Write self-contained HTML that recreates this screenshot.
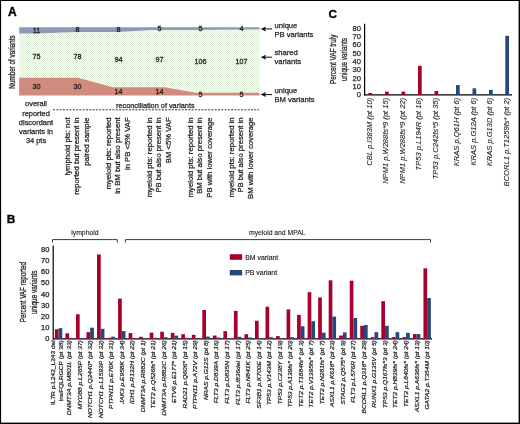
<!DOCTYPE html>
<html><head><meta charset="utf-8"><style>
html,body{margin:0;padding:0;background:#fff;}
body{width:520px;height:424px;overflow:hidden;}
svg{display:block;font-family:"Liberation Sans", sans-serif;}
</style></head><body>
<svg width="520" height="424" viewBox="0 0 520 424">
<defs><filter id="bl" x="-5%" y="-5%" width="110%" height="110%"><feGaussianBlur stdDeviation="0.45"/></filter></defs>
<rect x="0" y="0" width="520" height="424" fill="#fff"/>
<g filter="url(#bl)">
<text transform="translate(8.00,16.40) scale(1.000,1.000)" font-size="12" text-anchor="start" font-weight="bold" font-style="normal" fill="#000" stroke="#000" stroke-width="0.35">A</text>
<defs><pattern id="chk" width="2" height="2" patternUnits="userSpaceOnUse"><rect width="2" height="2" fill="#fbfdfa"/><rect width="1" height="1" fill="#deedd7"/><rect x="1" y="1" width="1" height="1" fill="#deedd7"/></pattern></defs>
<polygon points="19.2,33.6 36.0,33.6 77.0,32.0 118.0,32.0 152.0,30.1 200.0,30.1 241.0,29.6 259.6,29.6 259.6,92.7 196.0,92.7 165.0,87.3 113.0,87.3 78.0,77.7 19.2,77.7" fill="url(#chk)"/>
<polygon points="19.2,27.2 259.6,27.2 259.6,29.6 241.0,29.6 200.0,30.1 152.0,30.1 118.0,32.0 77.0,32.0 36.0,33.6 19.2,33.6" fill="#8f98b8"/>
<polygon points="19.2,77.7 78.0,77.7 113.0,87.3 165.0,87.3 196.0,92.7 259.6,92.7 259.6,95.4 19.2,95.4" fill="#d08a7e"/>
<text transform="translate(36.40,32.90) scale(0.900,1.000)" font-size="8" text-anchor="middle" font-weight="normal" font-style="normal" fill="#231f20" stroke="#231f20" stroke-width="0.3">11</text>
<text transform="translate(77.40,32.30) scale(0.900,1.000)" font-size="8" text-anchor="middle" font-weight="normal" font-style="normal" fill="#231f20" stroke="#231f20" stroke-width="0.3">8</text>
<text transform="translate(118.40,32.00) scale(0.900,1.000)" font-size="8" text-anchor="middle" font-weight="normal" font-style="normal" fill="#231f20" stroke="#231f20" stroke-width="0.3">8</text>
<text transform="translate(159.40,31.20) scale(0.900,1.000)" font-size="8" text-anchor="middle" font-weight="normal" font-style="normal" fill="#231f20" stroke="#231f20" stroke-width="0.3">5</text>
<text transform="translate(200.40,31.20) scale(0.900,1.000)" font-size="8" text-anchor="middle" font-weight="normal" font-style="normal" fill="#231f20" stroke="#231f20" stroke-width="0.3">5</text>
<text transform="translate(241.40,31.20) scale(0.900,1.000)" font-size="8" text-anchor="middle" font-weight="normal" font-style="normal" fill="#231f20" stroke="#231f20" stroke-width="0.3">4</text>
<text transform="translate(36.40,58.90) scale(0.900,1.000)" font-size="8" text-anchor="middle" font-weight="normal" font-style="normal" fill="#231f20" stroke="#231f20" stroke-width="0.3">75</text>
<text transform="translate(77.40,58.90) scale(0.900,1.000)" font-size="8" text-anchor="middle" font-weight="normal" font-style="normal" fill="#231f20" stroke="#231f20" stroke-width="0.3">78</text>
<text transform="translate(118.40,61.90) scale(0.900,1.000)" font-size="8" text-anchor="middle" font-weight="normal" font-style="normal" fill="#231f20" stroke="#231f20" stroke-width="0.3">94</text>
<text transform="translate(159.40,61.90) scale(0.900,1.000)" font-size="8" text-anchor="middle" font-weight="normal" font-style="normal" fill="#231f20" stroke="#231f20" stroke-width="0.3">97</text>
<text transform="translate(200.40,63.90) scale(0.900,1.000)" font-size="8" text-anchor="middle" font-weight="normal" font-style="normal" fill="#231f20" stroke="#231f20" stroke-width="0.3">106</text>
<text transform="translate(241.40,63.90) scale(0.900,1.000)" font-size="8" text-anchor="middle" font-weight="normal" font-style="normal" fill="#231f20" stroke="#231f20" stroke-width="0.3">107</text>
<text transform="translate(36.40,88.50) scale(0.900,1.000)" font-size="8" text-anchor="middle" font-weight="normal" font-style="normal" fill="#231f20" stroke="#231f20" stroke-width="0.3">30</text>
<text transform="translate(77.40,88.50) scale(0.900,1.000)" font-size="8" text-anchor="middle" font-weight="normal" font-style="normal" fill="#231f20" stroke="#231f20" stroke-width="0.3">30</text>
<text transform="translate(118.40,94.00) scale(0.900,1.000)" font-size="8" text-anchor="middle" font-weight="normal" font-style="normal" fill="#231f20" stroke="#231f20" stroke-width="0.3">14</text>
<text transform="translate(159.40,94.00) scale(0.900,1.000)" font-size="8" text-anchor="middle" font-weight="normal" font-style="normal" fill="#231f20" stroke="#231f20" stroke-width="0.3">14</text>
<text transform="translate(200.40,96.70) scale(0.900,1.000)" font-size="8" text-anchor="middle" font-weight="normal" font-style="normal" fill="#231f20" stroke="#231f20" stroke-width="0.3">5</text>
<text transform="translate(241.40,96.70) scale(0.900,1.000)" font-size="8" text-anchor="middle" font-weight="normal" font-style="normal" fill="#231f20" stroke="#231f20" stroke-width="0.3">5</text>
<text transform="translate(14.60,62.00) scale(1,0.735) rotate(-90)" font-size="8.6" text-anchor="middle" font-style="normal" fill="#231f20" stroke="#231f20" stroke-width="0.3">Number of variants</text>
<line x1="264" y1="28.9" x2="272" y2="28.9" stroke="#111" stroke-width="1.0"/>
<polygon points="260.6,28.9 266,26.4 265,28.9 266,31.4" fill="#111"/>
<line x1="264" y1="57.2" x2="272" y2="57.2" stroke="#111" stroke-width="1.0"/>
<polygon points="260.6,57.2 266,54.7 265,57.2 266,59.7" fill="#111"/>
<line x1="264" y1="94.6" x2="272" y2="94.6" stroke="#111" stroke-width="1.0"/>
<polygon points="260.6,94.6 266,92.1 265,94.6 266,97.1" fill="#111"/>
<text transform="translate(274.50,27.50) scale(1.000,1.000)" font-size="7.6" text-anchor="start" font-weight="normal" font-style="normal" fill="#231f20" stroke="#231f20" stroke-width="0.25">unique</text>
<text transform="translate(274.50,36.60) scale(1.000,1.000)" font-size="7.6" text-anchor="start" font-weight="normal" font-style="normal" fill="#231f20" stroke="#231f20" stroke-width="0.25">PB variants</text>
<text transform="translate(274.50,54.70) scale(1.000,1.000)" font-size="7.6" text-anchor="start" font-weight="normal" font-style="normal" fill="#231f20" stroke="#231f20" stroke-width="0.25">shared</text>
<text transform="translate(274.50,64.40) scale(1.000,1.000)" font-size="7.6" text-anchor="start" font-weight="normal" font-style="normal" fill="#231f20" stroke="#231f20" stroke-width="0.25">variants</text>
<text transform="translate(274.50,92.80) scale(1.000,1.000)" font-size="7.6" text-anchor="start" font-weight="normal" font-style="normal" fill="#231f20" stroke="#231f20" stroke-width="0.25">unique</text>
<text transform="translate(274.50,102.20) scale(1.000,1.000)" font-size="7.6" text-anchor="start" font-weight="normal" font-style="normal" fill="#231f20" stroke="#231f20" stroke-width="0.25">BM variants</text>
<text transform="translate(36.00,106.40) scale(1.000,1.000)" font-size="7.45" text-anchor="middle" font-weight="normal" font-style="normal" fill="#231f20" stroke="#231f20" stroke-width="0.25">overall</text>
<text transform="translate(36.00,115.60) scale(1.000,1.000)" font-size="7.45" text-anchor="middle" font-weight="normal" font-style="normal" fill="#231f20" stroke="#231f20" stroke-width="0.25">reported</text>
<text transform="translate(36.00,124.80) scale(1.000,1.000)" font-size="7.45" text-anchor="middle" font-weight="normal" font-style="normal" fill="#231f20" stroke="#231f20" stroke-width="0.25">discordant</text>
<text transform="translate(36.00,133.90) scale(1.000,1.000)" font-size="7.45" text-anchor="middle" font-weight="normal" font-style="normal" fill="#231f20" stroke="#231f20" stroke-width="0.25">variants in</text>
<text transform="translate(36.00,142.90) scale(1.000,1.000)" font-size="7.45" text-anchor="middle" font-weight="normal" font-style="normal" fill="#231f20" stroke="#231f20" stroke-width="0.25">34 pts</text>
<line x1="53" y1="109.8" x2="259" y2="109.8" stroke="#231f20" stroke-width="0.9" stroke-dasharray="2,1.3"/>
<text transform="translate(116.00,107.60) scale(1.000,1.000)" font-size="7.33" text-anchor="start" font-weight="normal" font-style="normal" fill="#231f20" stroke="#231f20" stroke-width="0.25">reconciliation of variants</text>
<text transform="translate(69.90,117.40) scale(1,1.070) rotate(-90)" font-size="7.2" text-anchor="end" font-style="normal" fill="#231f20" stroke="#231f20" stroke-width="0.25">lymphoid pts: not</text>
<text transform="translate(79.20,117.40) scale(1,1.070) rotate(-90)" font-size="7.2" text-anchor="end" font-style="normal" fill="#231f20" stroke="#231f20" stroke-width="0.25">reported but present in</text>
<text transform="translate(88.50,117.40) scale(1,1.070) rotate(-90)" font-size="7.2" text-anchor="end" font-style="normal" fill="#231f20" stroke="#231f20" stroke-width="0.25">paired sample</text>
<text transform="translate(110.90,117.40) scale(1,1.070) rotate(-90)" font-size="7.2" text-anchor="end" font-style="normal" fill="#231f20" stroke="#231f20" stroke-width="0.25">myeloid pts: reported</text>
<text transform="translate(120.20,117.40) scale(1,1.070) rotate(-90)" font-size="7.2" text-anchor="end" font-style="normal" fill="#231f20" stroke="#231f20" stroke-width="0.25">in BM but also present</text>
<text transform="translate(129.50,117.40) scale(1,1.070) rotate(-90)" font-size="7.2" text-anchor="end" font-style="normal" fill="#231f20" stroke="#231f20" stroke-width="0.25">in PB &lt;5% VAF</text>
<text transform="translate(151.90,117.40) scale(1,1.070) rotate(-90)" font-size="7.2" text-anchor="end" font-style="normal" fill="#231f20" stroke="#231f20" stroke-width="0.25">myeloid pts: reported in</text>
<text transform="translate(161.20,117.40) scale(1,1.070) rotate(-90)" font-size="7.2" text-anchor="end" font-style="normal" fill="#231f20" stroke="#231f20" stroke-width="0.25">PB but also present in</text>
<text transform="translate(170.50,117.40) scale(1,1.070) rotate(-90)" font-size="7.2" text-anchor="end" font-style="normal" fill="#231f20" stroke="#231f20" stroke-width="0.25">BM &lt;5% VAF</text>
<text transform="translate(192.90,117.40) scale(1,1.070) rotate(-90)" font-size="7.2" text-anchor="end" font-style="normal" fill="#231f20" stroke="#231f20" stroke-width="0.25">myeloid pts: reported in</text>
<text transform="translate(202.20,117.40) scale(1,1.070) rotate(-90)" font-size="7.2" text-anchor="end" font-style="normal" fill="#231f20" stroke="#231f20" stroke-width="0.25">BM but also present in</text>
<text transform="translate(211.50,117.40) scale(1,1.070) rotate(-90)" font-size="7.2" text-anchor="end" font-style="normal" fill="#231f20" stroke="#231f20" stroke-width="0.25">PB with lower coverage</text>
<text transform="translate(233.90,117.40) scale(1,1.070) rotate(-90)" font-size="7.2" text-anchor="end" font-style="normal" fill="#231f20" stroke="#231f20" stroke-width="0.25">myeloid pts: reported in</text>
<text transform="translate(243.20,117.40) scale(1,1.070) rotate(-90)" font-size="7.2" text-anchor="end" font-style="normal" fill="#231f20" stroke="#231f20" stroke-width="0.25">PB but also present in</text>
<text transform="translate(252.50,117.40) scale(1,1.070) rotate(-90)" font-size="7.2" text-anchor="end" font-style="normal" fill="#231f20" stroke="#231f20" stroke-width="0.25">BM with lower coverage</text>
<text transform="translate(328.50,18.10) scale(1.000,1.000)" font-size="11.8" text-anchor="start" font-weight="bold" font-style="normal" fill="#000" stroke="#000" stroke-width="0.35">C</text>
<line x1="364.6" y1="23.8" x2="364.6" y2="95.4" stroke="#000" stroke-width="1.2"/>
<line x1="364.1" y1="94.9" x2="512" y2="94.9" stroke="#000" stroke-width="1.2"/>
<text transform="translate(361.00,97.20) scale(1.000,1.000)" font-size="7.6" text-anchor="end" font-weight="normal" font-style="normal" fill="#231f20" stroke="#231f20" stroke-width="0.25">0</text>
<text transform="translate(361.00,88.89) scale(1.000,1.000)" font-size="7.6" text-anchor="end" font-weight="normal" font-style="normal" fill="#231f20" stroke="#231f20" stroke-width="0.25">10</text>
<text transform="translate(361.00,80.58) scale(1.000,1.000)" font-size="7.6" text-anchor="end" font-weight="normal" font-style="normal" fill="#231f20" stroke="#231f20" stroke-width="0.25">20</text>
<text transform="translate(361.00,72.27) scale(1.000,1.000)" font-size="7.6" text-anchor="end" font-weight="normal" font-style="normal" fill="#231f20" stroke="#231f20" stroke-width="0.25">30</text>
<text transform="translate(361.00,63.96) scale(1.000,1.000)" font-size="7.6" text-anchor="end" font-weight="normal" font-style="normal" fill="#231f20" stroke="#231f20" stroke-width="0.25">40</text>
<text transform="translate(361.00,55.65) scale(1.000,1.000)" font-size="7.6" text-anchor="end" font-weight="normal" font-style="normal" fill="#231f20" stroke="#231f20" stroke-width="0.25">50</text>
<text transform="translate(361.00,47.34) scale(1.000,1.000)" font-size="7.6" text-anchor="end" font-weight="normal" font-style="normal" fill="#231f20" stroke="#231f20" stroke-width="0.25">60</text>
<text transform="translate(361.00,39.03) scale(1.000,1.000)" font-size="7.6" text-anchor="end" font-weight="normal" font-style="normal" fill="#231f20" stroke="#231f20" stroke-width="0.25">70</text>
<text transform="translate(361.00,30.72) scale(1.000,1.000)" font-size="7.6" text-anchor="end" font-weight="normal" font-style="normal" fill="#231f20" stroke="#231f20" stroke-width="0.25">80</text>
<text transform="translate(336.40,59.40) scale(1,0.672) rotate(-90)" font-size="9.5" text-anchor="middle" font-style="normal" fill="#231f20" stroke="#231f20" stroke-width="0.3">Percent VAF truly</text>
<text transform="translate(347.30,59.50) scale(1,0.667) rotate(-90)" font-size="9.5" text-anchor="middle" font-style="normal" fill="#231f20" stroke="#231f20" stroke-width="0.3">unique variants</text>
<rect x="368.30" y="92.99" width="3.7" height="1.91" fill="#a8002c"/>
<rect x="385.00" y="91.66" width="3.7" height="3.24" fill="#a8002c"/>
<rect x="401.50" y="91.66" width="3.7" height="3.24" fill="#a8002c"/>
<rect x="418.00" y="65.82" width="3.7" height="29.08" fill="#a8002c"/>
<rect x="434.50" y="91.08" width="3.7" height="3.82" fill="#a8002c"/>
<rect x="456.00" y="85.09" width="3.7" height="9.81" fill="#25467e"/>
<rect x="472.50" y="88.34" width="3.7" height="6.56" fill="#25467e"/>
<rect x="489.00" y="89.83" width="3.7" height="5.07" fill="#25467e"/>
<rect x="505.30" y="35.82" width="3.7" height="59.08" fill="#25467e"/>
<text transform="translate(371.55,97.80) scale(1,1.050) rotate(-90)" font-size="7.2" text-anchor="end" font-style="italic" fill="#231f20" stroke="#231f20" stroke-width="0.1">CBL p.I383M (pt 10)</text>
<text transform="translate(388.25,97.80) scale(1,1.050) rotate(-90)" font-size="7.2" text-anchor="end" font-style="italic" fill="#231f20" stroke="#231f20" stroke-width="0.1">NPM1 p.W288fs*9 (pt 15)</text>
<text transform="translate(404.75,97.80) scale(1,1.050) rotate(-90)" font-size="7.2" text-anchor="end" font-style="italic" fill="#231f20" stroke="#231f20" stroke-width="0.1">NPM1 p.W288fs*9 (pt 22)</text>
<text transform="translate(421.25,97.80) scale(1,1.050) rotate(-90)" font-size="7.2" text-anchor="end" font-style="italic" fill="#231f20" stroke="#231f20" stroke-width="0.1">TP53 p.L194R (pt 18)</text>
<text transform="translate(437.75,97.80) scale(1,1.050) rotate(-90)" font-size="7.2" text-anchor="end" font-style="italic" fill="#231f20" stroke="#231f20" stroke-width="0.1">TP53 p.C242fs*5 (pt 35)</text>
<text transform="translate(459.25,97.80) scale(1,1.050) rotate(-90)" font-size="7.2" text-anchor="end" font-style="italic" fill="#231f20" stroke="#231f20" stroke-width="0.1">KRAS p.Q61H (pt 6)</text>
<text transform="translate(475.75,97.80) scale(1,1.050) rotate(-90)" font-size="7.2" text-anchor="end" font-style="italic" fill="#231f20" stroke="#231f20" stroke-width="0.1">KRAS p.G12A (pt 6)</text>
<text transform="translate(492.25,97.80) scale(1,1.050) rotate(-90)" font-size="7.2" text-anchor="end" font-style="italic" fill="#231f20" stroke="#231f20" stroke-width="0.1">KRAS p.G13D (pt 6)</text>
<text transform="translate(508.55,97.80) scale(1,1.050) rotate(-90)" font-size="7.2" text-anchor="end" font-style="italic" fill="#231f20" stroke="#231f20" stroke-width="0.1">BCORL1 p.T1259fs* (pt 2)</text>
<text transform="translate(6.70,222.70) scale(1.000,1.000)" font-size="11.8" text-anchor="start" font-weight="bold" font-style="normal" fill="#000" stroke="#000" stroke-width="0.35">B</text>
<line x1="53.2" y1="245.5" x2="53.2" y2="339.4" stroke="#000" stroke-width="1.2"/>
<line x1="52.7" y1="338.9" x2="432" y2="338.9" stroke="#000" stroke-width="1.2"/>
<text transform="translate(49.30,341.30) scale(1.000,1.000)" font-size="7.5" text-anchor="end" font-weight="normal" font-style="normal" fill="#231f20" stroke="#231f20" stroke-width="0.25">0</text>
<text transform="translate(49.30,330.10) scale(1.000,1.000)" font-size="7.5" text-anchor="end" font-weight="normal" font-style="normal" fill="#231f20" stroke="#231f20" stroke-width="0.25">10</text>
<text transform="translate(49.30,318.90) scale(1.000,1.000)" font-size="7.5" text-anchor="end" font-weight="normal" font-style="normal" fill="#231f20" stroke="#231f20" stroke-width="0.25">20</text>
<text transform="translate(49.30,307.70) scale(1.000,1.000)" font-size="7.5" text-anchor="end" font-weight="normal" font-style="normal" fill="#231f20" stroke="#231f20" stroke-width="0.25">30</text>
<text transform="translate(49.30,296.50) scale(1.000,1.000)" font-size="7.5" text-anchor="end" font-weight="normal" font-style="normal" fill="#231f20" stroke="#231f20" stroke-width="0.25">40</text>
<text transform="translate(49.30,285.30) scale(1.000,1.000)" font-size="7.5" text-anchor="end" font-weight="normal" font-style="normal" fill="#231f20" stroke="#231f20" stroke-width="0.25">50</text>
<text transform="translate(49.30,274.10) scale(1.000,1.000)" font-size="7.5" text-anchor="end" font-weight="normal" font-style="normal" fill="#231f20" stroke="#231f20" stroke-width="0.25">60</text>
<text transform="translate(49.30,262.90) scale(1.000,1.000)" font-size="7.5" text-anchor="end" font-weight="normal" font-style="normal" fill="#231f20" stroke="#231f20" stroke-width="0.25">70</text>
<text transform="translate(49.30,251.70) scale(1.000,1.000)" font-size="7.5" text-anchor="end" font-weight="normal" font-style="normal" fill="#231f20" stroke="#231f20" stroke-width="0.25">80</text>
<text transform="translate(25.70,292.10) scale(1,0.685) rotate(-90)" font-size="9.2" text-anchor="middle" font-style="normal" fill="#231f20" stroke="#231f20" stroke-width="0.3">Percent VAF reported</text>
<text transform="translate(36.50,292.30) scale(1,0.699) rotate(-90)" font-size="9.2" text-anchor="middle" font-style="normal" fill="#231f20" stroke="#231f20" stroke-width="0.3">unique variants</text>
<path d="M52.5,242.6 V239.6 H117.3 V242.6" fill="none" stroke="#3a3a3a" stroke-width="1"/>
<path d="M125.4,242.6 V239.6 H430.5 V242.6" fill="none" stroke="#3a3a3a" stroke-width="1"/>
<text transform="translate(71.30,234.70) scale(1.000,1.000)" font-size="6.8" text-anchor="start" font-weight="normal" font-style="normal" fill="#231f20" stroke="#231f20" stroke-width="0.12">lymphoid</text>
<text transform="translate(249.00,235.00) scale(1.000,1.000)" font-size="6.8" text-anchor="start" font-weight="normal" font-style="normal" fill="#231f20" stroke="#231f20" stroke-width="0.12">myeloid and MPAL</text>
<rect x="229.8" y="254.2" width="12.3" height="5.6" fill="#a8002c"/>
<rect x="229.8" y="270.0" width="12.3" height="5.4" fill="#25467e"/>
<text transform="translate(245.20,259.60) scale(1.000,1.000)" font-size="6.93" text-anchor="start" font-weight="normal" font-style="normal" fill="#231f20" stroke="#231f20" stroke-width="0.15">BM variant</text>
<text transform="translate(245.20,275.30) scale(1.000,1.000)" font-size="6.93" text-anchor="start" font-weight="normal" font-style="normal" fill="#231f20" stroke="#231f20" stroke-width="0.15">PB variant</text>
<rect x="54.90" y="329.27" width="3.7" height="9.63" fill="#a8002c"/>
<rect x="58.60" y="328.15" width="3.7" height="10.75" fill="#25467e"/>
<rect x="65.43" y="333.30" width="3.7" height="5.60" fill="#a8002c"/>
<rect x="69.13" y="338.34" width="3.7" height="0.56" fill="#25467e"/>
<rect x="75.96" y="314.26" width="3.7" height="24.64" fill="#a8002c"/>
<rect x="79.66" y="338.34" width="3.7" height="0.56" fill="#25467e"/>
<rect x="86.49" y="332.18" width="3.7" height="6.72" fill="#a8002c"/>
<rect x="90.19" y="327.70" width="3.7" height="11.20" fill="#25467e"/>
<rect x="97.02" y="254.45" width="3.7" height="84.45" fill="#a8002c"/>
<rect x="100.72" y="328.82" width="3.7" height="10.08" fill="#25467e"/>
<rect x="107.55" y="337.78" width="3.7" height="1.12" fill="#a8002c"/>
<rect x="111.25" y="336.66" width="3.7" height="2.24" fill="#25467e"/>
<rect x="118.08" y="298.58" width="3.7" height="40.32" fill="#a8002c"/>
<rect x="121.78" y="331.06" width="3.7" height="7.84" fill="#25467e"/>
<rect x="128.61" y="333.08" width="3.7" height="5.82" fill="#a8002c"/>
<rect x="139.14" y="336.77" width="3.7" height="2.13" fill="#a8002c"/>
<rect x="149.67" y="332.63" width="3.7" height="6.27" fill="#a8002c"/>
<rect x="153.37" y="337.78" width="3.7" height="1.12" fill="#25467e"/>
<rect x="160.20" y="331.73" width="3.7" height="7.17" fill="#a8002c"/>
<rect x="163.90" y="337.22" width="3.7" height="1.68" fill="#25467e"/>
<rect x="170.73" y="332.85" width="3.7" height="6.05" fill="#a8002c"/>
<rect x="174.43" y="335.65" width="3.7" height="3.25" fill="#25467e"/>
<rect x="181.26" y="334.20" width="3.7" height="4.70" fill="#a8002c"/>
<rect x="184.96" y="337.78" width="3.7" height="1.12" fill="#25467e"/>
<rect x="191.79" y="334.87" width="3.7" height="4.03" fill="#a8002c"/>
<rect x="202.32" y="310.00" width="3.7" height="28.90" fill="#a8002c"/>
<rect x="206.02" y="336.55" width="3.7" height="2.35" fill="#25467e"/>
<rect x="212.85" y="335.54" width="3.7" height="3.36" fill="#a8002c"/>
<rect x="216.55" y="337.56" width="3.7" height="1.34" fill="#25467e"/>
<rect x="223.38" y="331.17" width="3.7" height="7.73" fill="#a8002c"/>
<rect x="233.91" y="310.90" width="3.7" height="28.00" fill="#a8002c"/>
<rect x="237.61" y="336.77" width="3.7" height="2.13" fill="#25467e"/>
<rect x="244.44" y="334.20" width="3.7" height="4.70" fill="#a8002c"/>
<rect x="248.14" y="337.44" width="3.7" height="1.46" fill="#25467e"/>
<rect x="254.97" y="320.76" width="3.7" height="18.14" fill="#a8002c"/>
<rect x="258.67" y="338.00" width="3.7" height="0.90" fill="#25467e"/>
<rect x="265.50" y="306.76" width="3.7" height="32.14" fill="#a8002c"/>
<rect x="269.20" y="337.22" width="3.7" height="1.68" fill="#25467e"/>
<rect x="276.03" y="336.10" width="3.7" height="2.80" fill="#a8002c"/>
<rect x="279.73" y="338.34" width="3.7" height="0.56" fill="#25467e"/>
<rect x="286.56" y="309.44" width="3.7" height="29.46" fill="#a8002c"/>
<rect x="290.26" y="337.22" width="3.7" height="1.68" fill="#25467e"/>
<rect x="297.09" y="314.82" width="3.7" height="24.08" fill="#a8002c"/>
<rect x="300.79" y="326.24" width="3.7" height="12.66" fill="#25467e"/>
<rect x="307.62" y="292.20" width="3.7" height="46.70" fill="#a8002c"/>
<rect x="311.32" y="321.20" width="3.7" height="17.70" fill="#25467e"/>
<rect x="318.15" y="297.46" width="3.7" height="41.44" fill="#a8002c"/>
<rect x="321.85" y="332.63" width="3.7" height="6.27" fill="#25467e"/>
<rect x="328.68" y="280.32" width="3.7" height="58.58" fill="#a8002c"/>
<rect x="332.38" y="316.61" width="3.7" height="22.29" fill="#25467e"/>
<rect x="339.21" y="335.54" width="3.7" height="3.36" fill="#a8002c"/>
<rect x="342.91" y="332.40" width="3.7" height="6.50" fill="#25467e"/>
<rect x="349.74" y="280.66" width="3.7" height="58.24" fill="#a8002c"/>
<rect x="353.44" y="317.96" width="3.7" height="20.94" fill="#25467e"/>
<rect x="360.27" y="325.80" width="3.7" height="13.10" fill="#a8002c"/>
<rect x="363.97" y="325.01" width="3.7" height="13.89" fill="#25467e"/>
<rect x="370.80" y="337.22" width="3.7" height="1.68" fill="#a8002c"/>
<rect x="374.50" y="332.18" width="3.7" height="6.72" fill="#25467e"/>
<rect x="381.33" y="301.16" width="3.7" height="37.74" fill="#a8002c"/>
<rect x="385.03" y="325.80" width="3.7" height="13.10" fill="#25467e"/>
<rect x="391.86" y="337.11" width="3.7" height="1.79" fill="#a8002c"/>
<rect x="395.56" y="332.18" width="3.7" height="6.72" fill="#25467e"/>
<rect x="402.39" y="337.11" width="3.7" height="1.79" fill="#a8002c"/>
<rect x="406.09" y="332.85" width="3.7" height="6.05" fill="#25467e"/>
<rect x="412.92" y="334.08" width="3.7" height="4.82" fill="#a8002c"/>
<rect x="416.62" y="334.08" width="3.7" height="4.82" fill="#25467e"/>
<rect x="423.45" y="268.34" width="3.7" height="70.56" fill="#a8002c"/>
<rect x="427.15" y="298.02" width="3.7" height="40.88" fill="#25467e"/>
<text transform="translate(54.70,340.20) scale(1,1.160) rotate(-90)" font-size="5.7" text-anchor="end" font-style="normal" fill="#231f20" stroke="#231f20" stroke-width="0.22">IL7R p.L242_L243 del</text>
<text transform="translate(62.60,340.20) scale(1,1.160) rotate(-90)" font-size="5.7" text-anchor="end" font-style="normal" fill="#231f20" stroke="#231f20" stroke-width="0.22">insFQLRGCP (pt 38)</text>
<text transform="translate(71.03,340.20) scale(1,1.160) rotate(-90)" font-size="5.7" text-anchor="end" font-style="italic" fill="#231f20" stroke="#231f20" stroke-width="0.22">DNMT3A p.M801L (pt 33)</text>
<text transform="translate(81.56,340.20) scale(1,1.160) rotate(-90)" font-size="5.7" text-anchor="end" font-style="italic" fill="#231f20" stroke="#231f20" stroke-width="0.22">MYD88 p.L265P (pt 37)</text>
<text transform="translate(92.09,340.20) scale(1,1.160) rotate(-90)" font-size="5.7" text-anchor="end" font-style="italic" fill="#231f20" stroke="#231f20" stroke-width="0.22">NOTCH1 p.Q2440* (pt 32)</text>
<text transform="translate(102.62,340.20) scale(1,1.160) rotate(-90)" font-size="5.7" text-anchor="end" font-style="italic" fill="#231f20" stroke="#231f20" stroke-width="0.22">NOTCH1 p.L1593P (pt 32)</text>
<text transform="translate(113.15,340.20) scale(1,1.160) rotate(-90)" font-size="5.7" text-anchor="end" font-style="italic" fill="#231f20" stroke="#231f20" stroke-width="0.22">PTPN11 p.E76K (pt 31)</text>
<text transform="translate(123.68,340.20) scale(1,1.160) rotate(-90)" font-size="5.7" text-anchor="end" font-style="italic" fill="#231f20" stroke="#231f20" stroke-width="0.22">JAK3 p.E958K (pt 34)</text>
<text transform="translate(134.21,340.20) scale(1,1.160) rotate(-90)" font-size="5.7" text-anchor="end" font-style="italic" fill="#231f20" stroke="#231f20" stroke-width="0.22">IDH1 p.R132H (pt 22)</text>
<text transform="translate(144.74,340.20) scale(1,1.160) rotate(-90)" font-size="5.7" text-anchor="end" font-style="italic" fill="#231f20" stroke="#231f20" stroke-width="0.22">DNMT3A p.R882C (pt 1)</text>
<text transform="translate(155.27,340.20) scale(1,1.160) rotate(-90)" font-size="5.7" text-anchor="end" font-style="italic" fill="#231f20" stroke="#231f20" stroke-width="0.22">TET2 p.Q526fs* (pt 21)</text>
<text transform="translate(165.80,340.20) scale(1,1.160) rotate(-90)" font-size="5.7" text-anchor="end" font-style="italic" fill="#231f20" stroke="#231f20" stroke-width="0.22">DNMT3A p.R882C (pt 26)</text>
<text transform="translate(176.33,340.20) scale(1,1.160) rotate(-90)" font-size="5.7" text-anchor="end" font-style="italic" fill="#231f20" stroke="#231f20" stroke-width="0.22">ETV6 p.E177* (pt 21)</text>
<text transform="translate(186.86,340.20) scale(1,1.160) rotate(-90)" font-size="5.7" text-anchor="end" font-style="italic" fill="#231f20" stroke="#231f20" stroke-width="0.22">RAD21 p.Q606* (pt 15)</text>
<text transform="translate(197.39,340.20) scale(1,1.160) rotate(-90)" font-size="5.7" text-anchor="end" font-style="italic" fill="#231f20" stroke="#231f20" stroke-width="0.22">PTPN11 p.A72V (pt 29)</text>
<text transform="translate(207.92,340.20) scale(1,1.160) rotate(-90)" font-size="5.7" text-anchor="end" font-style="italic" fill="#231f20" stroke="#231f20" stroke-width="0.22">NRAS p.G12S (pt 8)</text>
<text transform="translate(218.45,340.20) scale(1,1.160) rotate(-90)" font-size="5.7" text-anchor="end" font-style="italic" fill="#231f20" stroke="#231f20" stroke-width="0.22">FLT3 p.D839A (pt 16)</text>
<text transform="translate(228.98,340.20) scale(1,1.160) rotate(-90)" font-size="5.7" text-anchor="end" font-style="italic" fill="#231f20" stroke="#231f20" stroke-width="0.22">FLT3 p.D835N (pt 17)</text>
<text transform="translate(239.51,340.20) scale(1,1.160) rotate(-90)" font-size="5.7" text-anchor="end" font-style="italic" fill="#231f20" stroke="#231f20" stroke-width="0.22">FLT3 p.I836del (pt 17)</text>
<text transform="translate(250.04,340.20) scale(1,1.160) rotate(-90)" font-size="5.7" text-anchor="end" font-style="italic" fill="#231f20" stroke="#231f20" stroke-width="0.22">FLT3 p.N841K (pt 25)</text>
<text transform="translate(260.57,340.20) scale(1,1.160) rotate(-90)" font-size="5.7" text-anchor="end" font-style="italic" fill="#231f20" stroke="#231f20" stroke-width="0.22">SF3B1 p.K700E (pt 14)</text>
<text transform="translate(271.10,340.20) scale(1,1.160) rotate(-90)" font-size="5.7" text-anchor="end" font-style="italic" fill="#231f20" stroke="#231f20" stroke-width="0.22">TP53 p.V143M (pt 12)</text>
<text transform="translate(281.63,340.20) scale(1,1.160) rotate(-90)" font-size="5.7" text-anchor="end" font-style="italic" fill="#231f20" stroke="#231f20" stroke-width="0.22">TP53 p.C238Y (pt 19)</text>
<text transform="translate(292.16,340.20) scale(1,1.160) rotate(-90)" font-size="5.7" text-anchor="end" font-style="italic" fill="#231f20" stroke="#231f20" stroke-width="0.22">TP53 p.A139fs* (pt 20)</text>
<text transform="translate(302.69,340.20) scale(1,1.160) rotate(-90)" font-size="5.7" text-anchor="end" font-style="italic" fill="#231f20" stroke="#231f20" stroke-width="0.22">TET2 p.T1884fs* (pt 3)</text>
<text transform="translate(313.22,340.20) scale(1,1.160) rotate(-90)" font-size="5.7" text-anchor="end" font-style="italic" fill="#231f20" stroke="#231f20" stroke-width="0.22">TET2 p.V1395fs* (pt 7)</text>
<text transform="translate(323.75,340.20) scale(1,1.160) rotate(-90)" font-size="5.7" text-anchor="end" font-style="italic" fill="#231f20" stroke="#231f20" stroke-width="0.22">TET2 p.N281fs* (pt 7)</text>
<text transform="translate(334.28,340.20) scale(1,1.160) rotate(-90)" font-size="5.7" text-anchor="end" font-style="italic" fill="#231f20" stroke="#231f20" stroke-width="0.22">ASXL1 p.K618* (pt 23)</text>
<text transform="translate(344.81,340.20) scale(1,1.160) rotate(-90)" font-size="5.7" text-anchor="end" font-style="italic" fill="#231f20" stroke="#231f20" stroke-width="0.22">STAG2 p.Q575* (pt 9)</text>
<text transform="translate(355.34,340.20) scale(1,1.160) rotate(-90)" font-size="5.7" text-anchor="end" font-style="italic" fill="#231f20" stroke="#231f20" stroke-width="0.22">FLT3 p.L576R (pt 27)</text>
<text transform="translate(365.87,340.20) scale(1,1.160) rotate(-90)" font-size="5.7" text-anchor="end" font-style="italic" fill="#231f20" stroke="#231f20" stroke-width="0.22">BCORL1 p.Q318* (pt 29)</text>
<text transform="translate(376.40,340.20) scale(1,1.160) rotate(-90)" font-size="5.7" text-anchor="end" font-style="italic" fill="#231f20" stroke="#231f20" stroke-width="0.22">RUNX1 p.G135V (pt 5)</text>
<text transform="translate(386.93,340.20) scale(1,1.160) rotate(-90)" font-size="5.7" text-anchor="end" font-style="italic" fill="#231f20" stroke="#231f20" stroke-width="0.22">TP53 p.Q167fs*3 (pt 3)</text>
<text transform="translate(397.46,340.20) scale(1,1.160) rotate(-90)" font-size="5.7" text-anchor="end" font-style="italic" fill="#231f20" stroke="#231f20" stroke-width="0.22">TET2 p.H839fs* (pt 24)</text>
<text transform="translate(407.99,340.20) scale(1,1.160) rotate(-90)" font-size="5.7" text-anchor="end" font-style="italic" fill="#231f20" stroke="#231f20" stroke-width="0.22">TET2 p.L840fs* (pt 24)</text>
<text transform="translate(418.52,340.20) scale(1,1.160) rotate(-90)" font-size="5.7" text-anchor="end" font-style="italic" fill="#231f20" stroke="#231f20" stroke-width="0.22">ASXL1 p.A636fs* (pt 13)</text>
<text transform="translate(429.05,340.20) scale(1,1.160) rotate(-90)" font-size="5.7" text-anchor="end" font-style="italic" fill="#231f20" stroke="#231f20" stroke-width="0.22">GATA2 p.T354M (pt 10)</text>
</g>
<rect x="0" y="0" width="520" height="1" fill="#000"/><rect x="0" y="0" width="1.1" height="424" fill="#000"/><rect x="518.6" y="0" width="1.4" height="424" fill="#000"/><rect x="0" y="422.6" width="520" height="1.4" fill="#000"/>
</svg>
</body></html>
